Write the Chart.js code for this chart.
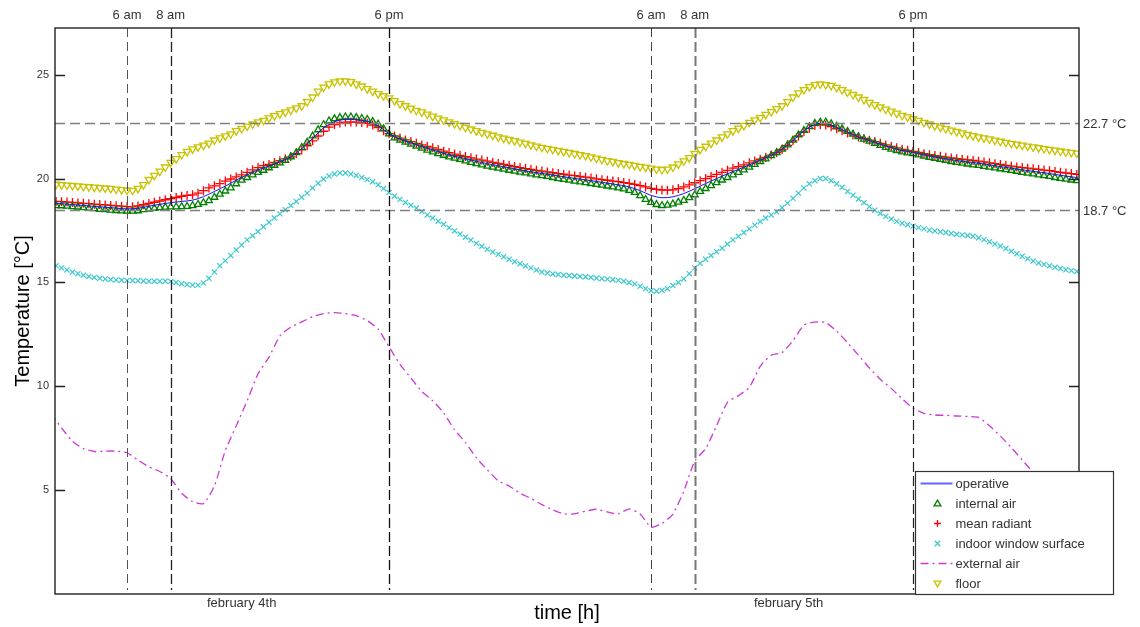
<!DOCTYPE html>
<html lang="en">
<head>
<meta charset="UTF-8">
<title>Temperatures - february 4th / 5th</title>
<script src="https://cdn.jsdelivr.net/npm/chart.js"></script>
<style>
  html, body { margin: 0; padding: 0; background: #fff; }
  #wrap { width: 1140px; height: 627px; }
</style>
</head>
<body>
<div id="wrap"><canvas id="myChart" width="1140" height="627" style="width:1140px;height:627px"></canvas></div>
<script>
  // marker series: one sample every 15 min, starting at 2:45 am of february 4th
  const T0 = 2.75, DT = 0.25;
  // line series: one sample every 30 min
  const T0_LINE = 2.5, DT_LINE = 0.5;
  const X_MIN = 2.7, X_MAX = 49.6;
  const Y_MIN = 0, Y_MAX = 27.25;

  const internalAir = [18.70,
    18.69, 18.67, 18.65, 18.63,  18.60, 18.57, 18.55, 18.52,  18.50, 18.48, 18.46, 18.44,
    18.43, 18.43, 18.45, 18.50,  18.53, 18.57, 18.60, 18.62,  18.64, 18.64, 18.65, 18.66,
    18.70, 18.76, 18.84, 18.94,  19.10, 19.25, 19.40, 19.55,  19.75, 19.92, 20.05, 20.18,
    20.30, 20.40, 20.52, 20.64,  20.75, 20.88, 21.05, 21.25,  21.50, 21.75, 22.05, 22.35,
    22.60, 22.78, 22.88, 22.94,  22.97, 22.97, 22.94, 22.90,  22.85, 22.75, 22.62, 22.40,
    22.15, 21.96, 21.85, 21.75,  21.66, 21.56, 21.46, 21.37,  21.28, 21.20, 21.12, 21.04,
    20.98, 20.92, 20.85, 20.78,  20.72, 20.66, 20.60, 20.55,  20.50, 20.45, 20.40, 20.36,
    20.31, 20.27, 20.22, 20.18,  20.14, 20.10, 20.05, 20.00,  19.96, 19.92, 19.88, 19.84,
    19.80, 19.76, 19.72, 19.68,  19.64, 19.60, 19.55, 19.50,  19.43, 19.33, 19.18, 19.00,
    18.85, 18.75, 18.70, 18.72,  18.78, 18.86, 18.95, 19.08,  19.22, 19.38, 19.52, 19.66,
    19.80, 19.93, 20.05, 20.18,  20.30, 20.42, 20.55, 20.68,  20.82, 20.95, 21.10, 21.25,
    21.42, 21.62, 21.85, 22.10,  22.32, 22.50, 22.66, 22.72,  22.72, 22.64, 22.52, 22.40,
    22.27, 22.14, 22.02, 21.90,  21.80, 21.70, 21.60, 21.50,  21.42, 21.35, 21.28, 21.24,
    21.20, 21.14, 21.08, 21.02,  20.97, 20.92, 20.87, 20.82,  20.78, 20.74, 20.70, 20.66,
    20.63, 20.59, 20.55, 20.51,  20.47, 20.43, 20.39, 20.35,  20.30, 20.26, 20.22, 20.18,
    20.14, 20.10, 20.05, 20.01,  19.97, 19.93, 19.90];

  const meanRadiant = [18.90,
    18.89, 18.87, 18.85, 18.83,  18.81, 18.79, 18.77, 18.75,  18.73, 18.71, 18.69, 18.67,
    18.65, 18.64, 18.68, 18.74,  18.80, 18.86, 18.92, 18.98,  19.04, 19.09, 19.15, 19.19,
    19.22, 19.30, 19.42, 19.55,  19.65, 19.76, 19.88, 19.98,  20.08, 20.18, 20.30, 20.42,
    20.53, 20.62, 20.68, 20.78,  20.86, 20.95, 21.05, 21.20,  21.38, 21.58, 21.82, 22.05,
    22.28, 22.48, 22.60, 22.68,  22.72, 22.72, 22.72, 22.70,  22.66, 22.58, 22.46, 22.30,
    22.16, 22.05, 21.95, 21.86,  21.78, 21.70, 21.62, 21.55,  21.48, 21.40, 21.32, 21.25,
    21.18, 21.12, 21.06, 21.00,  20.94, 20.89, 20.84, 20.78,  20.73, 20.68, 20.63, 20.58,
    20.53, 20.48, 20.44, 20.40,  20.36, 20.32, 20.28, 20.24,  20.21, 20.17, 20.14, 20.10,
    20.07, 20.03, 19.99, 19.95,  19.92, 19.88, 19.85, 19.81,  19.77, 19.72, 19.66, 19.60,
    19.53, 19.48, 19.45, 19.44,  19.46, 19.52, 19.60, 19.70,  19.80, 19.90, 20.00, 20.10,
    20.20, 20.30, 20.40, 20.50,  20.58, 20.66, 20.76, 20.85,  20.93, 21.02, 21.13, 21.25,
    21.40, 21.60, 21.82, 22.05,  22.25, 22.42, 22.55, 22.60,  22.58, 22.50, 22.40, 22.30,
    22.20, 22.10, 22.00, 21.93,  21.85, 21.78, 21.70, 21.62,  21.55, 21.48, 21.41, 21.36,
    21.31, 21.26, 21.20, 21.15,  21.11, 21.07, 21.03, 20.99,  20.96, 20.93, 20.90, 20.87,
    20.84, 20.80, 20.76, 20.72,  20.68, 20.64, 20.60, 20.56,  20.53, 20.50, 20.47, 20.44,
    20.41, 20.38, 20.34, 20.30,  20.27, 20.24, 20.20];

  const windowSurface = [15.80,
    15.70, 15.60, 15.50, 15.42,  15.35, 15.29, 15.24, 15.20,  15.17, 15.14, 15.12, 15.11,
    15.10, 15.09, 15.08, 15.07,  15.06, 15.06, 15.06, 15.06,  15.05, 15.00, 14.94, 14.90,
    14.87, 14.87, 14.98, 15.20,  15.50, 15.80, 16.05, 16.30,  16.56, 16.80, 17.05, 17.25,
    17.45, 17.68, 17.90, 18.10,  18.30, 18.50, 18.70, 18.90,  19.10, 19.30, 19.55, 19.78,
    19.98, 20.12, 20.22, 20.27,  20.27, 20.22, 20.15, 20.05,  19.95, 19.85, 19.70, 19.52,
    19.33, 19.15, 19.00, 18.85,  18.72, 18.58, 18.42, 18.25,  18.10, 17.95, 17.80, 17.64,
    17.48, 17.33, 17.18, 17.04,  16.88, 16.74, 16.60, 16.47,  16.35, 16.24, 16.12, 16.00,
    15.90, 15.80, 15.70, 15.60,  15.50, 15.45, 15.41, 15.38,  15.35, 15.33, 15.31, 15.29,
    15.27, 15.24, 15.21, 15.18,  15.16, 15.13, 15.10, 15.06,  15.00, 14.93, 14.82, 14.70,
    14.60, 14.58, 14.62, 14.70,  14.85, 15.00, 15.17, 15.42,  15.70, 15.92, 16.12, 16.30,
    16.48, 16.65, 16.85, 17.05,  17.22, 17.40, 17.58, 17.76,  17.93, 18.10, 18.25, 18.40,
    18.60, 18.82, 19.05, 19.30,  19.55, 19.75, 19.90, 20.00,  20.00, 19.90, 19.75, 19.58,
    19.38, 19.20, 19.02, 18.84,  18.65, 18.48, 18.32, 18.18,  18.05, 17.94, 17.85, 17.78,
    17.71, 17.64, 17.58, 17.52,  17.48, 17.44, 17.40, 17.36,  17.32, 17.29, 17.26, 17.22,
    17.15, 17.06, 16.96, 16.85,  16.75, 16.63, 16.50, 16.38,  16.26, 16.14, 16.03, 15.94,
    15.87, 15.80, 15.73, 15.67,  15.61, 15.57, 15.53];

  const floorTemp = [19.72,
    19.70, 19.68, 19.66, 19.64,  19.62, 19.60, 19.58, 19.56,  19.54, 19.52, 19.49, 19.46,
    19.44, 19.43, 19.52, 19.70,  19.95, 20.15, 20.35, 20.55,  20.77, 20.95, 21.15, 21.30,
    21.42, 21.52, 21.60, 21.70,  21.85, 21.95, 22.05, 22.15,  22.30, 22.40, 22.52, 22.62,
    22.72, 22.80, 22.92, 23.02,  23.12, 23.20, 23.30, 23.40,  23.50, 23.70, 23.92, 24.20,
    24.40, 24.55, 24.65, 24.70,  24.70, 24.66, 24.55, 24.45,  24.32, 24.20, 24.08, 23.98,
    23.88, 23.75, 23.60, 23.50,  23.38, 23.28, 23.20, 23.10,  23.00, 22.90, 22.82, 22.72,
    22.64, 22.55, 22.46, 22.38,  22.30, 22.22, 22.15, 22.08,  22.00, 21.94, 21.88, 21.82,
    21.75, 21.69, 21.62, 21.56,  21.50, 21.45, 21.40, 21.35,  21.30, 21.25, 21.20, 21.15,
    21.10, 21.04, 20.98, 20.92,  20.86, 20.82, 20.76, 20.72,  20.68, 20.63, 20.58, 20.54,
    20.50, 20.45, 20.43, 20.45,  20.55, 20.70, 20.85, 21.00,  21.20, 21.40, 21.55, 21.70,
    21.85, 22.00, 22.15, 22.30,  22.42, 22.55, 22.70, 22.82,  22.93, 23.08, 23.22, 23.36,
    23.50, 23.70, 23.92, 24.12,  24.28, 24.42, 24.52, 24.55,  24.52, 24.48, 24.38, 24.28,
    24.16, 24.04, 23.92, 23.80,  23.66, 23.55, 23.44, 23.34,  23.24, 23.14, 23.04, 22.96,
    22.88, 22.80, 22.70, 22.62,  22.54, 22.47, 22.40, 22.33,  22.26, 22.19, 22.12, 22.06,
    22.00, 21.95, 21.90, 21.84,  21.79, 21.74, 21.69, 21.65,  21.60, 21.56, 21.52, 21.48,
    21.44, 21.40, 21.36, 21.32,  21.28, 21.25, 21.22];

  const operative = [18.81,
    18.79, 18.75,  18.71, 18.66,  18.62, 18.58,  18.54, 18.57,  18.67, 18.76,  18.84, 18.90,
    18.96, 19.13,  19.38, 19.64,  19.92, 20.18,  20.42, 20.60,  20.80, 21.05,  21.44, 21.94,
    22.44, 22.74,  22.85, 22.83,  22.76, 22.54,  22.16, 21.90,  21.72, 21.54,  21.38, 21.22,
    21.08, 20.96,  20.83, 20.72,  20.62, 20.52,  20.42, 20.33,  20.25, 20.17,  20.09, 20.01,
    19.94, 19.86,  19.78, 19.70,  19.60, 19.42,  19.19, 19.08,  19.12, 19.28,  19.51, 19.76,
    20.00, 20.23,  20.44, 20.66,  20.88, 21.12,  21.41, 21.84,  22.29, 22.61,  22.65, 22.46,
    22.24, 22.01,  21.83, 21.65,  21.49, 21.35,  21.26, 21.14,  21.04, 20.95,  20.87, 20.80,
    20.74, 20.66,  20.58, 20.50,  20.42, 20.35,  20.28, 20.20,  20.12, 20.05];

  const externalAir = [8.70,
    8.00, 7.35,  7.00, 6.86,  6.88, 6.88,  6.80, 6.45,  6.12, 5.90,  5.55, 4.85,
    4.45, 4.35,  5.20, 6.90,  8.10, 9.30,  10.60, 11.40,  12.42, 12.85,  13.10, 13.35,
    13.50, 13.55,  13.50, 13.40,  13.16, 12.75,  11.90, 11.06,  10.40, 9.75,  9.30, 8.72,
    7.90, 7.30,  6.55, 5.98,  5.45, 5.20,  4.85, 4.60,  4.30, 4.05,  3.86, 3.86,
    3.98, 4.08,  3.95, 3.86,  4.10, 3.85,  3.22, 3.40,  3.85, 4.95,  6.40, 7.00,
    8.10, 9.23,  9.55, 9.95,  10.96, 11.50,  11.62, 12.20,  12.95, 13.09,  13.07, 12.65,
    12.10, 11.50,  10.88, 10.34,  9.90, 9.40,  8.95, 8.70,  8.62, 8.60,  8.57, 8.55,
    8.50, 8.10,  7.60, 7.05,  6.45, 5.85,  5.30, 4.80,  4.35, 4.00];

  const markHours = [6, 8, 18, 30, 32, 42];
  const markLabels = ['6 am', '8 am', '6 pm', '6 am', '8 am', '6 pm'];
  const dayPos = [11.25, 36.3];
  const dayLabels = ['february 4th', 'february 5th'];
  const yTicks = [5, 10, 15, 20, 25];
  const refValues = [22.7, 18.5];
  const refLabels = ['22.7 °C', '18.7 °C'];

  function toPoints(values, t0, dt) {
    return values.map(function (v, i) { return { x: t0 + i * dt, y: v }; });
  }

  Chart.defaults.font.family = '"Liberation Sans", Arial, sans-serif';

  // small marker for the legend
  function drawMark(ctx, style, cx, cy, r) {
    ctx.beginPath();
    if (style === 'triangle') {
      ctx.moveTo(cx, cy - r); ctx.lineTo(cx + r, cy + r * 0.7); ctx.lineTo(cx - r, cy + r * 0.7); ctx.closePath();
    } else if (style === 'triangleDown') {
      ctx.moveTo(cx, cy + r); ctx.lineTo(cx + r, cy - r * 0.7); ctx.lineTo(cx - r, cy - r * 0.7); ctx.closePath();
    } else if (style === 'cross') {
      ctx.moveTo(cx - r, cy); ctx.lineTo(cx + r, cy); ctx.moveTo(cx, cy - r); ctx.lineTo(cx, cy + r);
    } else {
      ctx.moveTo(cx - r * 0.8, cy - r * 0.8); ctx.lineTo(cx + r * 0.8, cy + r * 0.8);
      ctx.moveTo(cx - r * 0.8, cy + r * 0.8); ctx.lineTo(cx + r * 0.8, cy - r * 0.8);
    }
    ctx.stroke();
  }

  const guides = {
    id: 'guides',
    afterDatasetsDraw(chart) {
      const ctx = chart.ctx, a = chart.chartArea;
      const xs = chart.scales.x, ys = chart.scales.y;
      ctx.save();
      // horizontal reference lines
      ctx.strokeStyle = '#808080';
      ctx.lineWidth = 1.5;
      ctx.setLineDash([10, 5]);
      refValues.forEach(function (v) {
        const y = Math.round(ys.getPixelForValue(v)) + 0.5;
        ctx.beginPath(); ctx.moveTo(a.left, y); ctx.lineTo(a.right, y); ctx.stroke();
      });
      // vertical time marks
      const vStyle = [
        ['#555', 1, [9, 5]], ['#222', 1.3, [10, 4]], ['#111', 1.3, [10, 4]],
        ['#444', 1, [9, 5]], ['#777', 2, [10, 4]], ['#222', 1.2, [10, 4]]
      ];
      markHours.forEach(function (h, i) {
        const x = Math.round(xs.getPixelForValue(h)) + 0.5;
        ctx.strokeStyle = vStyle[i][0];
        ctx.lineWidth = vStyle[i][1];
        ctx.setLineDash(vStyle[i][2]);
        ctx.beginPath(); ctx.moveTo(x, a.top); ctx.lineTo(x, a.bottom - 4); ctx.stroke();
      });
      ctx.setLineDash([]);
      // inward tick marks on both sides
      ctx.strokeStyle = '#222';
      ctx.lineWidth = 1.5;
      yTicks.forEach(function (v) {
        const y = Math.round(ys.getPixelForValue(v)) + 0.5;
        ctx.beginPath();
        ctx.moveTo(a.left, y); ctx.lineTo(a.left + 10, y);
        ctx.moveTo(a.right - 10, y); ctx.lineTo(a.right, y);
        ctx.stroke();
      });
      // frame
      ctx.strokeStyle = '#222';
      ctx.lineWidth = 1.4;
      ctx.strokeRect(a.left, a.top, a.right - a.left, a.bottom - a.top);
      ctx.restore();
    }
  };

  const legendBox = {
    id: 'legendBox',
    afterDraw(chart) {
      const ctx = chart.ctx, a = chart.chartArea;
      const w = 198, h = 123;
      const x0 = a.right - 163.5, y0 = a.bottom - h + 0.5;
      ctx.save();
      ctx.fillStyle = '#fff';
      ctx.fillRect(x0, y0, w, h);
      ctx.strokeStyle = '#333';
      ctx.lineWidth = 1.2;
      ctx.strokeRect(x0, y0, w, h);
      ctx.font = '13px "Liberation Sans", Arial, sans-serif';
      ctx.textBaseline = 'middle';
      chart.data.datasets.forEach(function (ds, i) {
        const cy = y0 + 12 + i * 20;
        if (ds.showLine) {
          ctx.strokeStyle = ds.legendColor || ds.borderColor;
          ctx.lineWidth = ds.borderDash ? 1.5 : 2;
          ctx.setLineDash(ds.borderDash || []);
          ctx.beginPath(); ctx.moveTo(x0 + 5, cy); ctx.lineTo(x0 + 37, cy); ctx.stroke();
          ctx.setLineDash([]);
        } else {
          ctx.strokeStyle = ds.pointBorderColor;
          ctx.lineWidth = 1.3;
          drawMark(ctx, ds.legendMark, x0 + 22, cy, 3.4);
        }
        ctx.fillStyle = '#333';
        ctx.fillText(ds.label, x0 + 40, cy + 1);
      });
      ctx.restore();
    }
  };

  const ctx = document.getElementById('myChart').getContext('2d');
  const myChart = new Chart(ctx, {
    type: 'scatter',
    data: {
      datasets: [
        {
          label: 'operative',
          data: toPoints(operative, T0_LINE, DT_LINE),
          showLine: true,
          borderColor: 'rgb(20,20,255)',
          legendColor: 'rgb(100,100,255)',
          borderWidth: 1,
          pointRadius: 0,
          tension: 0.3
        },
        {
          label: 'internal air',
          data: toPoints(internalAir, T0, DT),
          showLine: false,
          pointStyle: 'triangle',
          legendMark: 'triangle',
          pointRadius: 3.9,
          pointBorderWidth: 1.3,
          pointBorderColor: 'rgb(0,128,0)',
          pointBackgroundColor: 'rgba(0,0,0,0)'
        },
        {
          label: 'mean radiant',
          data: toPoints(meanRadiant, T0, DT),
          showLine: false,
          pointStyle: 'cross',
          legendMark: 'cross',
          pointRadius: 4.5,
          pointBorderWidth: 1.3,
          pointBorderColor: 'rgb(255,0,0)',
          pointBackgroundColor: 'rgba(0,0,0,0)'
        },
        {
          label: 'indoor window surface',
          data: toPoints(windowSurface, T0, DT),
          showLine: false,
          pointStyle: 'crossRot',
          legendMark: 'crossRot',
          pointRadius: 3.6,
          pointBorderWidth: 1.2,
          pointBorderColor: 'rgb(60,200,205)',
          pointBackgroundColor: 'rgba(0,0,0,0)'
        },
        {
          label: 'external air',
          data: toPoints(externalAir, T0_LINE, DT_LINE),
          showLine: true,
          borderColor: 'rgb(205,55,215)',
          borderWidth: 1.3,
          borderDash: [8, 4, 2, 4],
          pointRadius: 0,
          tension: 0.2
        },
        {
          label: 'floor',
          data: toPoints(floorTemp, T0, DT),
          showLine: false,
          pointStyle: 'triangle',
          pointRotation: 180,
          legendMark: 'triangleDown',
          pointRadius: 4.3,
          pointBorderWidth: 1.3,
          pointBorderColor: 'rgb(200,195,0)',
          pointBackgroundColor: 'rgba(0,0,0,0)'
        }
      ]
    },
    options: {
      responsive: false,
      animation: false,
      layout: { padding: 0 },
      plugins: {
        legend: { display: false },
        tooltip: { enabled: false }
      },
      scales: {
        x: {
          type: 'linear', position: 'bottom', min: X_MIN, max: X_MAX,
          afterBuildTicks: function (s) { s.ticks = dayPos.map(function (v) { return { value: v }; }); },
          afterFit: function (s) { s.height = 33; },
          grid: { display: false, drawTicks: false },
          border: { display: false },
          ticks: {
            autoSkip: false, maxRotation: 0, padding: 2, color: '#333', font: { size: 13 },
            callback: function (v, i) { return dayLabels[i]; }
          },
          title: { display: true, text: 'time [h]', color: '#000', font: { size: 20, lineHeight: 1.2 }, padding: { top: 0, bottom: 2 } }
        },
        x2: {
          type: 'linear', position: 'top', min: X_MIN, max: X_MAX,
          afterBuildTicks: function (s) { s.ticks = markHours.map(function (v) { return { value: v }; }); },
          afterFit: function (s) { s.height = 28; },
          grid: { display: false, drawTicks: false },
          border: { display: false },
          ticks: {
            autoSkip: false, maxRotation: 0, padding: 5, color: '#333', font: { size: 13 },
            callback: function (v, i) { return markLabels[i]; }
          }
        },
        y: {
          type: 'linear', position: 'left', min: Y_MIN, max: Y_MAX,
          afterBuildTicks: function (s) { s.ticks = yTicks.map(function (v) { return { value: v }; }); },
          afterFit: function (s) { s.width = 55; },
          grid: { display: false, drawTicks: false },
          border: { display: false },
          ticks: { padding: 6, color: '#333', font: { size: 11 } },
          title: { display: true, text: 'Temperature [°C]', color: '#000', font: { size: 20, lineHeight: 1.2 }, padding: { top: 11, bottom: 0 } }
        },
        y2: {
          type: 'linear', position: 'right', min: Y_MIN, max: Y_MAX,
          afterBuildTicks: function (s) { s.ticks = refValues.map(function (v) { return { value: v }; }); },
          afterFit: function (s) { s.width = 61; },
          grid: { display: false, drawTicks: false },
          border: { display: false },
          ticks: {
            padding: 4, color: '#333', font: { size: 13 }, labelOffset: 2,
            callback: function (v, i) { return refLabels[i]; }
          }
        }
      }
    },
    plugins: [guides, legendBox]
  });
</script>
</body>
</html>
